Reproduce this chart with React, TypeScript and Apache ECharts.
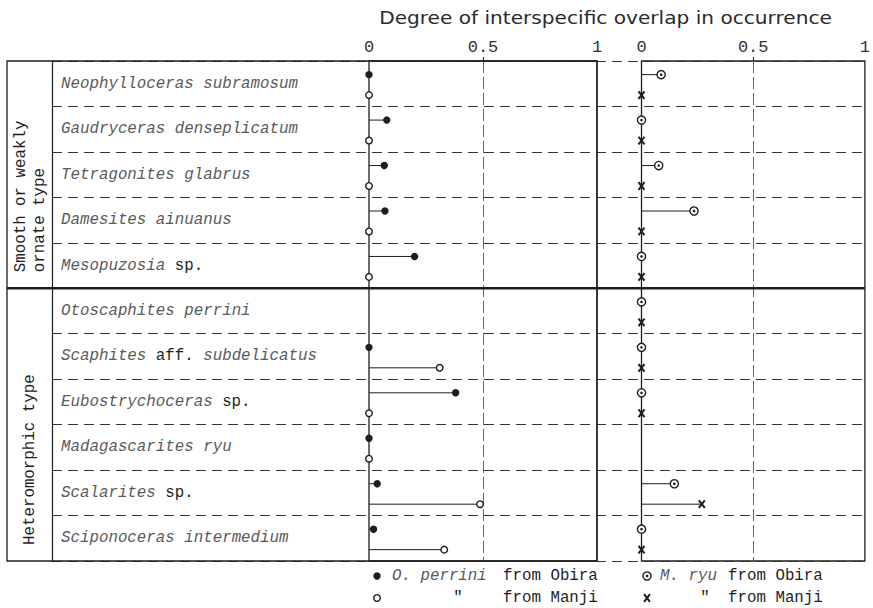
import React, { useEffect, useRef } from 'react';
import * as echarts from 'echarts';

// ---- data -------------------------------------------------------------
const TITLE = 'Degree of interspecific overlap in occurrence';

const species = [
  'Neophylloceras subramosum',
  'Gaudryceras denseplicatum',
  'Tetragonites glabrus',
  'Damesites ainuanus',
  'Mesopuzosia sp.',
  'Otoscaphites perrini',
  'Scaphites aff. subdelicatus',
  'Eubostrychoceras sp.',
  'Madagascarites ryu',
  'Scalarites sp.',
  'Sciponoceras intermedium',
];

const groupLabels = ['Smooth or weakly\nornate type', 'Heteromorphic type'];
const groupSizes = [5, 6];

const tickLabels = ['0', '0.5', '1'];

// overlap with Otoscaphites perrini (left panel)
const perriniObira: (number | null)[] = [0, 0.078, 0.067, 0.07, 0.2, null, 0, 0.38, 0, 0.036, 0.02];
const perriniManji: (number | null)[] = [0, 0, 0, 0, 0, null, 0.31, 0, 0, 0.487, 0.33];

// overlap with Madagascarites ryu (right panel)
const ryuObira: (number | null)[] = [0.088, 0, 0.077, 0.235, 0, 0, 0, 0, null, 0.147, 0];
const ryuManji: (number | null)[] = [0, 0, 0, 0, 0, 0, 0, 0, null, 0.27, 0];

// ---- styling ----------------------------------------------------------
const MONO = 'Liberation Mono';
const SANS = 'DejaVu Sans';
const INK = '#1e1e1e';
const ITALIC_INK = '#5a5a5a';
const FS = 15.8;

const OBIRA_OFFSET = 0.3;
const MANJI_OFFSET = 0.75;

type Marker = 'dot' | 'ring' | 'target' | 'cross';

function markerEl(kind: Marker, x: number, y: number): any {
  switch (kind) {
    case 'dot':
      return { type: 'circle', shape: { cx: x, cy: y, r: 3.7 }, style: { fill: INK } };
    case 'ring':
      return {
        type: 'circle',
        shape: { cx: x, cy: y, r: 3.3 },
        style: { fill: '#fff', stroke: INK, lineWidth: 1.4 },
      };
    case 'target':
      return {
        type: 'group',
        children: [
          { type: 'circle', shape: { cx: x, cy: y, r: 4.1 }, style: { fill: '#fff', stroke: INK, lineWidth: 1.4 } },
          { type: 'circle', shape: { cx: x, cy: y, r: 1.3 }, style: { fill: INK } },
        ],
      };
    case 'cross':
    default:
      return {
        type: 'group',
        children: [
          { type: 'line', shape: { x1: x - 3, y1: y - 3.8, x2: x + 3, y2: y + 3.8 }, style: { stroke: INK, lineWidth: 2 } },
          { type: 'line', shape: { x1: x + 3, y1: y - 3.8, x2: x - 3, y2: y + 3.8 }, style: { stroke: INK, lineWidth: 2 } },
        ],
      };
  }
}

// stem from zero plus the end marker, placed through the panel's axes
function markSeries(name: string, axisIndex: number, values: (number | null)[], offset: number, kind: Marker) {
  const data = values
    .map((v, i) => (v == null ? null : [v, i + offset]))
    .filter((d) => d !== null);
  return {
    type: 'custom',
    name,
    xAxisIndex: axisIndex,
    yAxisIndex: axisIndex,
    data,
    clip: false,
    z: 5,
    encode: { x: 0, y: 1 },
    renderItem: (_params: any, api: any) => {
      const v = api.value(0) as number;
      const y = api.value(1) as number;
      const p0 = api.coord([0, y]);
      const p = api.coord([v, y]);
      const children: any[] = [];
      if (v > 0) {
        children.push({
          type: 'line',
          shape: { x1: p0[0], y1: p0[1], x2: p[0], y2: p[1] },
          style: { stroke: INK, lineWidth: 1 },
        });
      }
      children.push(markerEl(kind, p[0], p[1]));
      return { type: 'group', children };
    },
  };
}

const PLAIN_WORDS = new Set(['sp.', 'aff.']);
function speciesLabel(name: string) {
  return name
    .split(' ')
    .map((w) => (PLAIN_WORDS.has(w) ? `{r|${w}}` : `{i|${w}}`))
    .join('{i| }');
}

function panelXAxis(gridIndex: number) {
  return {
    gridIndex,
    type: 'value',
    min: 0,
    max: 1,
    interval: 0.5,
    position: 'top',
    axisLine: { show: false },
    axisTick: { show: true, length: 4, customValues: [0.5], lineStyle: { color: INK, width: 1 } },
    axisLabel: {
      margin: 5,
      fontFamily: MONO,
      fontSize: 17,
      color: '#333',
      formatter: (v: number) => tickLabels[Math.round(v * 2)] ?? String(v),
    },
    splitLine: { show: true, lineStyle: { type: [12, 4], color: '#555', width: 0.9 } },
  };
}

function panelYAxis(gridIndex: number) {
  return { gridIndex, type: 'value', min: 0, max: species.length, inverse: true, show: false };
}

export default function App() {
  const ref = useRef<HTMLDivElement>(null);

  useEffect(() => {
    if (!ref.current) return;
    const chart = echarts.init(ref.current, undefined, { renderer: 'svg' });

    chart.setOption({
      animation: false,
      backgroundColor: '#fff',
      grid: [
        { left: 369, top: 61, width: 228, height: 500, show: true, borderColor: INK, borderWidth: 1.3 },
        { left: 641.5, top: 61, width: 226.5, height: 500, show: true, borderColor: INK, borderWidth: 1.3 },
        { left: 52, top: 61, width: 816, height: 500, show: false },
      ],
      xAxis: [panelXAxis(0), panelXAxis(1), { gridIndex: 2, type: 'value', show: false }],
      yAxis: [
        panelYAxis(0),
        panelYAxis(1),
        {
          gridIndex: 2,
          type: 'category',
          data: species,
          inverse: true,
          boundaryGap: true,
          axisLine: { show: true, lineStyle: { color: INK, width: 1.2 } },
          axisTick: { show: false },
          axisLabel: {
            inside: true,
            align: 'left',
            margin: 9,
            interval: 0,
            fontFamily: MONO,
            fontSize: FS,
            formatter: (v: string) => speciesLabel(v),
            rich: {
              i: { fontFamily: MONO, fontStyle: 'italic', fontSize: FS, color: ITALIC_INK },
              r: { fontFamily: MONO, fontSize: FS, color: INK },
            },
          },
          splitLine: { show: true, interval: 0, lineStyle: { type: [10, 6], color: '#333', width: 1 } },
        },
      ],
      series: [
        markSeries('O. perrini from Obira', 0, perriniObira, OBIRA_OFFSET, 'dot'),
        markSeries('O. perrini from Manji', 0, perriniManji, MANJI_OFFSET, 'ring'),
        markSeries('M. ryu from Obira', 1, ryuObira, OBIRA_OFFSET, 'target'),
        markSeries('M. ryu from Manji', 1, ryuManji, MANJI_OFFSET, 'cross'),
      ],
    });

    // frame, group captions and key, positioned from the axes
    const yPix = (v: number) => chart.convertToPixel({ yAxisIndex: 0 }, v) as number;
    const leftRight = chart.convertToPixel({ xAxisIndex: 0 }, 1) as number;
    const rightRight = chart.convertToPixel({ xAxisIndex: 1 }, 1) as number;
    const top = yPix(0);
    const bottom = yPix(species.length);
    const outerLeft = 7;
    const colLine = 52;

    const graphic: any[] = [
      {
        type: 'text',
        x: 605.5,
        y: 18,
        scaleX: 1.15,
        style: {
          text: TITLE,
          fontFamily: SANS,
          fontSize: 17.5,
          fill: '#2a2a2a',
          align: 'center',
          verticalAlign: 'middle',
        },
      },
      {
        type: 'rect',
        shape: { x: outerLeft, y: top, width: leftRight - outerLeft, height: bottom - top },
        style: { fill: 'none', stroke: INK, lineWidth: 1.3 },
        z: 10,
      },
    ];

    let start = 0;
    groupSizes.forEach((n, gi) => {
      const bandBottom = yPix(start + n);
      graphic.push({
        type: 'text',
        x: (outerLeft + colLine) / 2 + 0.5,
        y: bandBottom - 16,
        rotation: Math.PI / 2,
        style: {
          text: groupLabels[gi],
          fontFamily: MONO,
          fontSize: FS,
          fill: INK,
          align: 'left',
          verticalAlign: 'middle',
          lineHeight: 19,
        },
      });
      start += n;
      if (gi < groupSizes.length - 1) {
        graphic.push({
          type: 'line',
          shape: { x1: outerLeft, y1: bandBottom, x2: rightRight, y2: bandBottom },
          style: { stroke: INK, lineWidth: 2.6 },
          z: 11,
        });
      }
    });

    const row1 = 576;
    const row2 = 598;
    const txt = (x: number, y: number, text: string, italic = false, align = 'left') => ({
      type: 'text',
      x,
      y,
      style: {
        text,
        fontFamily: MONO,
        fontSize: FS,
        fontStyle: italic ? 'italic' : 'normal',
        fill: italic ? ITALIC_INK : INK,
        align,
        verticalAlign: 'middle',
      },
    });
    graphic.push(
      markerEl('dot', 377, row1),
      txt(392, row1, 'O. perrini', true),
      txt(503, row1, 'from Obira'),
      markerEl('ring', 377, row2),
      txt(458, row2, '"', false, 'center'),
      txt(503, row2, 'from Manji'),
      markerEl('target', 647, row1),
      txt(660, row1, 'M. ryu', true),
      txt(728, row1, 'from Obira'),
      markerEl('cross', 647, row2),
      txt(705, row2, '"', false, 'center'),
      txt(728, row2, 'from Manji'),
    );

    chart.setOption({ graphic });

    return () => chart.dispose();
  }, []);

  return (
    <div
      ref={ref}
      style={{ position: 'fixed', left: 0, top: 0, width: 873, height: 608, background: '#fff' }}
    />
  );
}
